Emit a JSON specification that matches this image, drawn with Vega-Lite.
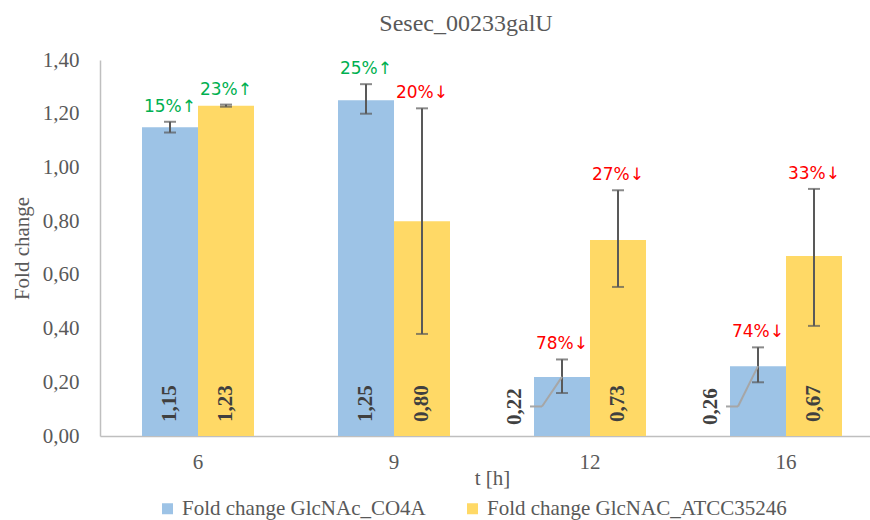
{
  "$schema": "https://vega.github.io/schema/vega-lite/v6.json",
  "width": 784,
  "height": 376,
  "autosize": {"type": "none"},
  "padding": {"left": 100, "top": 60, "right": 0, "bottom": 84},
  "background": "white",
  "title": {"text": "Sesec_00233galU", "font": "Liberation Serif", "fontSize": 24, "fontWeight": "normal", "color": "#595959", "dx": -26, "offset": 13},
  "data": {
    "values": [
      {"t": 6, "series": "Fold change GlcNAc_CO4A", "value": 1.15, "lo": 1.13, "hi": 1.17, "pct": "15%↑", "dir": "up"},
      {"t": 6, "series": "Fold change GlcNAC_ATCC35246", "value": 1.23, "lo": 1.226, "hi": 1.234, "pct": "23%↑", "dir": "up"},
      {"t": 9, "series": "Fold change GlcNAc_CO4A", "value": 1.25, "lo": 1.2, "hi": 1.31, "pct": "25%↑", "dir": "up"},
      {"t": 9, "series": "Fold change GlcNAC_ATCC35246", "value": 0.8, "lo": 0.38, "hi": 1.22, "pct": "20%↓", "dir": "down"},
      {"t": 12, "series": "Fold change GlcNAc_CO4A", "value": 0.22, "lo": 0.16, "hi": 0.285, "pct": "78%↓", "dir": "down"},
      {"t": 12, "series": "Fold change GlcNAC_ATCC35246", "value": 0.73, "lo": 0.555, "hi": 0.915, "pct": "27%↓", "dir": "down"},
      {"t": 16, "series": "Fold change GlcNAc_CO4A", "value": 0.26, "lo": 0.2, "hi": 0.33, "pct": "74%↓", "dir": "down"},
      {"t": 16, "series": "Fold change GlcNAC_ATCC35246", "value": 0.67, "lo": 0.41, "hi": 0.92, "pct": "33%↓", "dir": "down"}
    ]
  },
  "encoding": {
    "x": {
      "field": "t", "type": "ordinal",
      "scale": {"paddingInner": 0.4286, "paddingOuter": 0.2143},
      "axis": {"labelAngle": 0, "ticks": false, "domainColor": "#BFBFBF", "domainWidth": 1.5, "labelFont": "Liberation Serif", "labelFontSize": 21, "labelColor": "#595959", "labelPadding": 15, "title": "t [h]", "titleFont": "Liberation Serif", "titleFontSize": 21, "titleFontWeight": "normal", "titleColor": "#595959", "titlePadding": -5}
    },
    "xOffset": {"field": "series", "type": "nominal", "sort": ["Fold change GlcNAc_CO4A", "Fold change GlcNAC_ATCC35246"], "scale": {"paddingInner": 0, "paddingOuter": 0}}
  },
  "layer": [
    {
      "mark": {"type": "bar"},
      "encoding": {
        "y": {"field": "value", "type": "quantitative", "scale": {"domain": [0, 1.4]},
          "axis": {"values": [0, 0.2, 0.4, 0.6, 0.8, 1.0, 1.2, 1.4], "format": ".2f", "grid": false, "ticks": false, "domainColor": "#BFBFBF", "domainWidth": 1.5, "labelFont": "Liberation Serif", "labelFontSize": 21, "labelColor": "#595959", "labelPadding": 21, "title": "Fold change", "titleFont": "Liberation Serif", "titleFontSize": 21, "titleFontWeight": "normal", "titleColor": "#595959", "titlePadding": 10}},
        "color": {"field": "series", "type": "nominal", "sort": ["Fold change GlcNAc_CO4A", "Fold change GlcNAC_ATCC35246"],
          "scale": {"range": ["#9DC3E6", "#FFD966"]},
          "legend": {"title": null, "orient": "none", "legendX": 57, "legendY": 438, "direction": "horizontal", "symbolType": "square", "symbolSize": 121, "symbolStrokeWidth": 0, "labelFont": "Liberation Serif", "labelFontSize": 21, "labelColor": "#595959", "labelLimit": 400, "columnPadding": 36, "labelOffset": 4}}
      }
    },
    {
      "mark": {"type": "rule", "color": "#595959", "strokeWidth": 2},
      "encoding": {"y": {"field": "lo", "type": "quantitative"}, "y2": {"field": "hi"}}
    },
    {
      "mark": {"type": "tick", "color": "#595959", "size": 12, "thickness": 2},
      "encoding": {"y": {"field": "lo", "type": "quantitative"}}
    },
    {
      "mark": {"type": "tick", "color": "#595959", "size": 12, "thickness": 2},
      "encoding": {"y": {"field": "hi", "type": "quantitative"}}
    },
    {
      "mark": {"type": "text", "font": "DejaVu Sans", "fontSize": 17, "baseline": "middle", "align": "center", "dy": -15},
      "encoding": {
        "y": {"field": "hi", "type": "quantitative"},
        "text": {"field": "pct"},
        "color": {"condition": {"test": "datum.dir == 'up'", "value": "#00B050"}, "value": "#FF0000"}
      }
    },
    {
      "transform": [{"filter": "datum.value >= 0.5"}],
      "mark": {"type": "text", "font": "Liberation Serif", "fontWeight": "bold", "fontSize": 21, "angle": 270, "align": "left", "baseline": "middle", "dx": 14, "color": "#404040"},
      "encoding": {"y": {"datum": 0}, "text": {"field": "value", "format": ".2f"}}
    },
    {
      "transform": [{"filter": "datum.value < 0.5"}],
      "mark": {"type": "text", "font": "Liberation Serif", "fontWeight": "bold", "fontSize": 21, "angle": 270, "align": "left", "baseline": "middle", "dx": 11, "dy": -47, "color": "#404040"},
      "encoding": {"y": {"datum": 0}, "text": {"field": "value", "format": ".2f"}}
    },
    {
      "transform": [{"filter": "datum.value < 0.5"}],
      "mark": {"type": "rule", "color": "#A6A6A6", "strokeWidth": 2, "x2Offset": -48},
      "encoding": {"y": {"field": "value", "type": "quantitative"}, "y2": {"datum": 0.11}, "x2": {"field": "t"}}
    },
    {
      "transform": [{"filter": "datum.value < 0.5"}],
      "mark": {"type": "rule", "color": "#A6A6A6", "strokeWidth": 2, "xOffset": -60, "x2Offset": -48},
      "encoding": {"xOffset": null, "y": {"datum": 0.11}, "x2": {"field": "t"}}
    }
  ],
  "config": {
    "view": {"stroke": null},
    "locale": {"number": {"decimal": ",", "thousands": ".", "grouping": [3], "currency": ["", " €"]}}
  }
}
